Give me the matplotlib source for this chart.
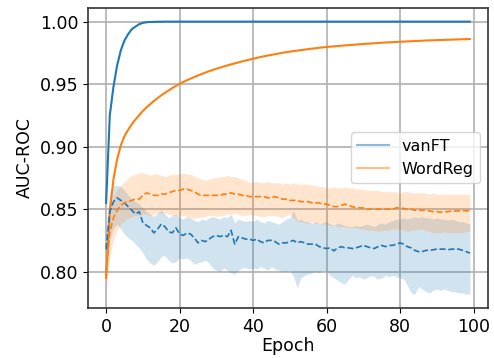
import numpy as np
import matplotlib
matplotlib.use('Agg')
import matplotlib.pyplot as plt
from matplotlib.lines import Line2D

epochs = np.arange(100)

# training AUC (solid)
vanft_train = [0.855, 0.925, 0.948, 0.965, 0.977, 0.985, 0.990, 0.994, 0.996, 0.998,
               0.999, 0.9995, 0.9997, 0.9998, 0.9999, 0.9999, 1.0, 1.0, 1.0, 1.0,
               1.0, 1.0, 1.0, 1.0, 1.0, 1.0, 1.0, 1.0, 1.0, 1.0,
               1.0, 1.0, 1.0, 1.0, 1.0, 1.0, 1.0, 1.0, 1.0, 1.0,
               1.0, 1.0, 1.0, 1.0, 1.0, 1.0, 1.0, 1.0, 1.0, 1.0,
               1.0, 1.0, 1.0, 1.0, 1.0, 1.0, 1.0, 1.0, 1.0, 1.0,
               1.0, 1.0, 1.0, 1.0, 1.0, 1.0, 1.0, 1.0, 1.0, 1.0,
               1.0, 1.0, 1.0, 1.0, 1.0, 1.0, 1.0, 1.0, 1.0, 1.0,
               1.0, 1.0, 1.0, 1.0, 1.0, 1.0, 1.0, 1.0, 1.0, 1.0,
               1.0, 1.0, 1.0, 1.0, 1.0, 1.0, 1.0, 1.0, 1.0, 1.0]
wordreg_train = [0.7950, 0.8480, 0.8740, 0.8900, 0.9010, 0.9085, 0.9135, 0.9180, 0.9218, 0.9252,
                 0.9285, 0.9314, 0.9340, 0.9365, 0.9388, 0.9410, 0.9430, 0.9450, 0.9468, 0.9486,
                 0.9502, 0.9517, 0.9531, 0.9544, 0.9557, 0.9569, 0.9581, 0.9592, 0.9603, 0.9613,
                 0.9623, 0.9632, 0.9641, 0.9650, 0.9658, 0.9666, 0.9674, 0.9682, 0.9689, 0.9696,
                 0.9703, 0.9710, 0.9717, 0.9723, 0.9729, 0.9734, 0.9740, 0.9745, 0.9751, 0.9756,
                 0.9760, 0.9764, 0.9768, 0.9772, 0.9776, 0.9780, 0.9784, 0.9787, 0.9791, 0.9794,
                 0.9797, 0.9800, 0.9802, 0.9805, 0.9807, 0.9810, 0.9812, 0.9814, 0.9817, 0.9819,
                 0.9821, 0.9823, 0.9825, 0.9827, 0.9829, 0.9831, 0.9833, 0.9834, 0.9836, 0.9837,
                 0.9839, 0.9840, 0.9842, 0.9843, 0.9845, 0.9846, 0.9847, 0.9849, 0.9850, 0.9851,
                 0.9852, 0.9853, 0.9854, 0.9855, 0.9856, 0.9857, 0.9858, 0.9859, 0.9860, 0.9861]

# validation AUC (dashed) with spread
vanft_val = [0.818, 0.848, 0.856, 0.859, 0.857, 0.855, 0.852, 0.849, 0.846, 0.848,
             0.839, 0.837, 0.835, 0.831, 0.834, 0.838, 0.836, 0.832, 0.831, 0.835,
             0.830, 0.829, 0.831, 0.830, 0.827, 0.823, 0.825, 0.824, 0.826, 0.828,
             0.829, 0.828, 0.829, 0.828, 0.833, 0.822, 0.828, 0.827, 0.826, 0.826,
             0.825, 0.826, 0.824, 0.823, 0.825, 0.825, 0.824, 0.822, 0.823, 0.823,
             0.824, 0.825, 0.823, 0.824, 0.823, 0.822, 0.822, 0.822, 0.820, 0.819,
             0.8185, 0.819, 0.8166, 0.819, 0.820, 0.819, 0.819, 0.8185, 0.819, 0.820,
             0.821, 0.820, 0.819, 0.8185, 0.820, 0.821, 0.820, 0.821, 0.821, 0.822,
             0.823, 0.822, 0.820, 0.819, 0.817, 0.816, 0.816, 0.817, 0.817, 0.8175,
             0.818, 0.818, 0.818, 0.8175, 0.818, 0.818, 0.818, 0.817, 0.816, 0.8148]
vanft_hi = [0.836, 0.864, 0.869, 0.869, 0.868, 0.865, 0.861, 0.858, 0.856, 0.854,
            0.851, 0.848, 0.846, 0.844, 0.847, 0.849, 0.846, 0.843, 0.845, 0.846,
            0.843, 0.842, 0.844, 0.843, 0.841, 0.840, 0.842, 0.841, 0.843, 0.844,
            0.843, 0.842, 0.844, 0.843, 0.846, 0.839, 0.842, 0.841, 0.840, 0.841,
            0.840, 0.842, 0.840, 0.839, 0.841, 0.840, 0.839, 0.838, 0.840, 0.842,
            0.843, 0.849, 0.841, 0.842, 0.840, 0.840, 0.839, 0.840, 0.838, 0.839,
            0.840, 0.838, 0.837, 0.839, 0.838, 0.837, 0.836, 0.836, 0.837, 0.836,
            0.837, 0.838, 0.837, 0.836, 0.838, 0.839, 0.838, 0.840, 0.841, 0.842,
            0.842, 0.843, 0.842, 0.843, 0.844, 0.843, 0.844, 0.843, 0.843, 0.842,
            0.843, 0.842, 0.842, 0.841, 0.842, 0.841, 0.840, 0.840, 0.839, 0.838]
vanft_lo = [0.800, 0.826, 0.835, 0.838, 0.834, 0.830, 0.827, 0.825, 0.822, 0.819,
            0.815, 0.810, 0.807, 0.805, 0.808, 0.812, 0.813, 0.809, 0.807, 0.808,
            0.811, 0.810, 0.811, 0.809, 0.806, 0.807, 0.808, 0.809, 0.807, 0.803,
            0.801, 0.800, 0.803, 0.801, 0.799, 0.798, 0.801, 0.803, 0.803, 0.802,
            0.803, 0.802, 0.804, 0.803, 0.801, 0.804, 0.802, 0.801, 0.800, 0.800,
            0.801, 0.796, 0.787, 0.795, 0.797, 0.798, 0.799, 0.800, 0.799, 0.801,
            0.800, 0.797, 0.795, 0.793, 0.791, 0.790, 0.794, 0.797, 0.795, 0.796,
            0.794, 0.795, 0.797, 0.796, 0.794, 0.795, 0.797, 0.796, 0.797, 0.796,
            0.795, 0.794, 0.789, 0.783, 0.782, 0.788, 0.786, 0.784, 0.783, 0.785,
            0.786, 0.785, 0.786, 0.785, 0.784, 0.784, 0.783, 0.783, 0.782, 0.782]

wordreg_val = [0.799, 0.832, 0.843, 0.849, 0.853, 0.855, 0.856, 0.857, 0.858, 0.858,
               0.861, 0.863, 0.862, 0.861, 0.861, 0.862, 0.862, 0.863, 0.864, 0.865,
               0.865, 0.866, 0.866, 0.865, 0.864, 0.862, 0.861, 0.861, 0.861, 0.861,
               0.861, 0.861, 0.862, 0.862, 0.863, 0.862, 0.862, 0.861, 0.861, 0.860,
               0.860, 0.860, 0.860, 0.860, 0.859, 0.859, 0.860, 0.859, 0.858, 0.858,
               0.857, 0.857, 0.857, 0.856, 0.856, 0.856, 0.855, 0.855, 0.855, 0.854,
               0.854, 0.853, 0.852, 0.852, 0.853, 0.854, 0.853, 0.852, 0.851, 0.851,
               0.851, 0.850, 0.850, 0.850, 0.850, 0.850, 0.850, 0.850, 0.850, 0.851,
               0.851, 0.8505, 0.850, 0.850, 0.849, 0.8495, 0.849, 0.849, 0.8485, 0.848,
               0.848, 0.8475, 0.848, 0.848, 0.8485, 0.8485, 0.8487, 0.8487, 0.8487, 0.8487]
wordreg_hi = [0.810, 0.848, 0.860, 0.866, 0.869, 0.872, 0.875, 0.877, 0.878, 0.879,
              0.879, 0.878, 0.877, 0.878, 0.878, 0.877, 0.876, 0.877, 0.878, 0.878,
              0.878, 0.879, 0.878, 0.878, 0.876, 0.875, 0.874, 0.873, 0.874, 0.875,
              0.875, 0.876, 0.876, 0.877, 0.876, 0.876, 0.875, 0.874, 0.873, 0.871,
              0.872, 0.872, 0.871, 0.871, 0.872, 0.871, 0.871, 0.871, 0.870, 0.871,
              0.870, 0.871, 0.870, 0.870, 0.870, 0.870, 0.869, 0.869, 0.868, 0.868,
              0.867, 0.867, 0.868, 0.867, 0.867, 0.868, 0.867, 0.867, 0.866, 0.866,
              0.866, 0.865, 0.865, 0.865, 0.865, 0.864, 0.864, 0.864, 0.864, 0.864,
              0.863, 0.864, 0.864, 0.863, 0.863, 0.863, 0.863, 0.863, 0.862, 0.863,
              0.862, 0.862, 0.862, 0.862, 0.862, 0.862, 0.862, 0.862, 0.862, 0.862]
wordreg_lo = [0.786, 0.812, 0.826, 0.833, 0.838, 0.841, 0.843, 0.844, 0.845, 0.845,
              0.846, 0.846, 0.845, 0.846, 0.847, 0.847, 0.847, 0.846, 0.845, 0.845,
              0.844, 0.845, 0.844, 0.843, 0.843, 0.843, 0.844, 0.844, 0.845, 0.845,
              0.844, 0.845, 0.845, 0.846, 0.846, 0.847, 0.846, 0.845, 0.845, 0.846,
              0.845, 0.845, 0.844, 0.844, 0.845, 0.845, 0.845, 0.844, 0.843, 0.845,
              0.846, 0.843, 0.840, 0.840, 0.839, 0.839, 0.840, 0.839, 0.838, 0.838,
              0.838, 0.837, 0.837, 0.836, 0.836, 0.836, 0.835, 0.835, 0.835, 0.834,
              0.834, 0.833, 0.833, 0.833, 0.832, 0.833, 0.833, 0.833, 0.834, 0.834,
              0.834, 0.833, 0.832, 0.833, 0.833, 0.834, 0.834, 0.833, 0.832, 0.831,
              0.831, 0.831, 0.832, 0.831, 0.831, 0.831, 0.831, 0.831, 0.832, 0.832]

blue = '#1f77b4'
orange = '#ff7f0e'

fig = plt.figure(figsize=(4.94, 3.58), dpi=100)
ax = fig.add_axes([0.178, 0.14, 0.81, 0.838])

ax.plot(epochs, vanft_train, color=blue, lw=1.5)
ax.plot(epochs, wordreg_train, color=orange, lw=1.5)

ax.fill_between(epochs, vanft_lo, vanft_hi, color=blue, alpha=0.2, lw=0)
ax.plot(epochs, vanft_val, color=blue, lw=1.2, ls='--')
ax.fill_between(epochs, wordreg_lo, wordreg_hi, color=orange, alpha=0.2, lw=0)
ax.plot(epochs, wordreg_val, color=orange, lw=1.2, ls='--')

ax.set_ylim(0.771, 1.011)
ax.set_yticks([0.80, 0.85, 0.90, 0.95, 1.00])
ax.set_xticks([0, 20, 40, 60, 80, 100])
ax.grid(True, color='#b0b0b0', lw=1.2)
ax.set_axisbelow(True)
ax.tick_params(labelsize=12.5)
for s in ax.spines.values():
    s.set_linewidth(1.2)
    s.set_color('#333333')

ax.set_xlabel('Epoch', fontsize=12.5, labelpad=1)
ax.set_ylabel('AUC-ROC', fontsize=12.5)

handles = [Line2D([], [], color=blue, lw=1.5, alpha=0.5),
           Line2D([], [], color=orange, lw=1.5, alpha=0.5)]
ax.legend(handles, ['vanFT', 'WordReg'], loc='center right', fontsize=11.5)

fig.savefig('out.png', dpi=100)
